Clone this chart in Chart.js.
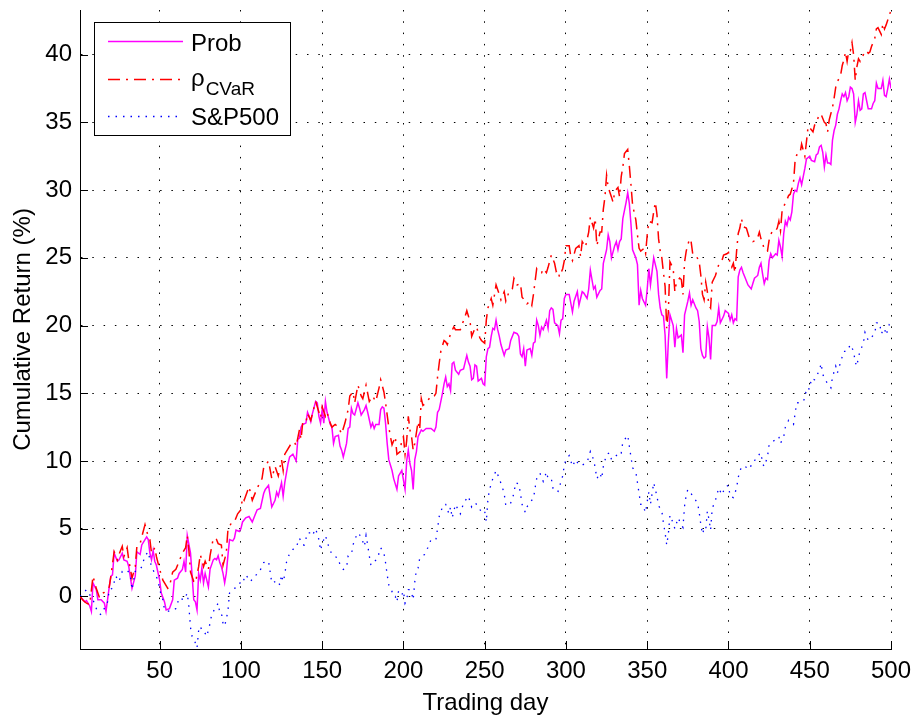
<!DOCTYPE html>
<html>
<head>
<meta charset="utf-8">
<script src="https://cdn.jsdelivr.net/npm/chart.js@4.4.0/dist/chart.umd.min.js"></script>
<style>
  body { margin: 0; background: #fff; }
</style>
</head>
<body>
<canvas id="myChart" width="916" height="718"></canvas>
<script>
// [trading day, cumulative return %]
var probData = [
  [1,0],[4,-0.4],[5,-0.3],[7,-0.7],[8,-1.1],[9,1.0],[11,0.5],[12,-0.25],[14,-0.25],[16,-0.5],[17,-1.1],[19,0.7],[20,1.5],
  [21,1.6],[22,3.2],[24,2.6],[25,2.7],[27,3.2],[28,2.7],[30,2.6],[31,2.2],[33,0.6],[35,1.5],[36,3.3],[38,3.1],[39,3.8],
  [41,4.2],[42,4.4],[43,4.2],[44,3.2],[45,2.7],[46,3.4],[47,2.6],[48,2.3],[50,1.2],[51,0.25],[53,-0.4],[54,-1.0],[56,-0.9],
  [58,-0.25],[59,1.2],[61,1.35],[62,1.7],[64,2.0],[65,2.6],[66,1.8],[67,4.5],[69,3.2],[70,1.5],[71,-0.25],[72,-0.4],[73,-1.0],
  [74,1.7],[75,1.2],[76,2.1],[77,1.0],[78,1.7],[80,0.7],[81,2.0],[83,2.7],[84,2.8],[85,2.7],[86,3.0],[87,2.5],[88,2.2],
  [89,1.7],[90,1.0],[91,1.7],[92,3.0],[93,4.2],[95,4.1],[96,4.3],[97,4.9],[99,4.8],[100,5.0],[101,5.5],[103,5.8],[105,5.9],
  [107,5.5],[109,6.1],[110,6.4],[112,6.5],[114,7.6],[115,7.9],[117,8.2],[118,7.4],[119,6.6],[121,7.1],[122,7.7],[123,7.4],
  [124,7.9],[125,8.4],[126,7.4],[127,8.4],[129,9.8],[130,10.3],[132,10.5],[134,10.0],[135,11.6],[136,11.7],[137,12.5],
  [138,12.7],[140,12.8],[141,13.6],[142,13.3],[143,12.9],[144,13.5],[146,14.4],[147,14.3],[148,13.3],[149,12.8],[150,13.8],
  [151,12.8],[152,14.4],[153,13.6],[155,12.7],[156,12.5],[157,11.3],[158,11.8],[160,11.9],[161,11.1],[162,10.8],[163,10.3],
  [165,11.3],[166,12.4],[167,12.5],[168,13.9],[169,13.5],[170,13.4],[172,14.3],[173,13.9],[174,13.4],[176,13.8],[177,14.1],
  [178,13.6],[180,12.5],[181,12.8],[182,12.4],[183,12.7],[185,12.7],[186,13.8],[187,14.0],[188,13.9],[189,12.8],[190,11.3],
  [191,10.1],[193,9.3],[194,8.7],[196,7.9],[197,8.9],[199,9.3],[200,8.6],[201,7.9],[202,10.0],[203,10.8],[204,9.8],[205,9.3],
  [206,7.9],[207,10.1],[208,10.7],[209,11.8],[211,12.3],[212,12.2],[214,12.4],[217,12.4],[219,12.2],[220,12.5],[221,13.6],
  [222,13.8],[224,15.0],[225,15.7],[226,16.2],[227,15.5],[228,15.7],[229,15.2],[230,17.2],[231,17.3],[232,16.7],[234,16.4],
  [235,16.7],[237,16.8],[238,17.3],[239,17.8],[240,17.3],[241,17.0],[242,16.0],[243,16.1],[244,17.1],[245,17.0],[246,15.9],
  [248,16.1],[249,15.7],[250,15.6],[251,17.7],[252,18.3],[253,18.4],[254,19.2],[255,19.8],[256,19.7],[257,20.4],[258,19.7],
  [259,19.2],[260,18.6],[261,18.2],[262,17.8],[263,18.2],[265,18.3],[266,18.9],[268,19.5],[270,19.4],[271,19.2],[272,17.9],
  [273,17.7],[274,18.3],[275,17.0],[276,18.2],[278,18.3],[279,17.8],[280,18.7],[281,18.8],[282,20.4],[283,20.0],[284,19.3],
  [285,19.9],[286,19.7],[288,20.4],[289,19.8],[290,21.1],[291,21.3],[292,21.2],[293,20.2],[295,20.0],[296,19.4],[297,20.4],
  [298,20.5],[299,22.0],[300,22.3],[302,22.3],[304,21.0],[305,21.8],[307,22.5],[308,21.5],[310,22.5],[311,22.4],[313,22.0],
  [314,22.7],[315,24.1],[317,22.7],[318,22.9],[319,22.1],[321,22.6],[322,22.7],[323,24.6],[325,25.6],[326,26.7],[327,26.2],
  [328,25.0],[330,25.9],[331,26.2],[332,25.6],[333,26.2],[334,26.4],[335,27.9],[337,29.1],[338,29.8],[339,29.0],[340,27.5],
  [341,25.6],[343,25.0],[344,24.5],[345,21.5],[346,22.6],[347,22.0],[349,21.5],[350,22.7],[351,24.2],[352,23.0],[353,24.0],
  [354,25.0],[356,24.0],[357,22.3],[358,21.3],[359,20.8],[360,20.7],[361,19.3],[362,16.1],[363,18.8],[364,20.8],[366,20.0],
  [367,18.4],[368,19.8],[369,19.1],[370,19.2],[371,19.3],[372,18.0],[373,20.8],[375,21.8],[376,22.4],[377,21.5],[378,21.9],
  [380,21.3],[381,21.1],[382,20.3],[383,18.3],[384,17.8],[385,17.6],[386,17.7],[387,19.9],[388,19.1],[389,17.5],[390,20.0],
  [392,20.0],[393,20.3],[394,21.3],[395,20.2],[397,20.7],[398,21.1],[399,21.0],[400,20.9],[401,20.4],[402,20.8],[403,20.2],
  [404,20.5],[405,20.4],[406,23.6],[407,24.1],[408,24.3],[409,23.9],[410,23.6],[412,23.0],[414,22.7],[415,23.1],[416,23.5],
  [418,23.7],[419,24.3],[420,24.6],[421,23.8],[422,23.1],[423,23.5],[424,23.4],[425,24.8],[426,25.3],[427,25.0],[429,25.3],
  [430,25.2],[431,26.3],[432,25.8],[433,25.1],[434,26.8],[435,27.7],[436,27.4],[437,28.0],[438,27.8],[439,28.4],[440,29.7],
  [441,30.0],[442,29.9],[443,30.5],[444,30.9],[445,30.4],[446,31.0],[447,31.6],[448,32.3],[450,32.5],[451,32.2],[453,32.1],
  [454,32.6],[455,32.7],[456,33.2],[457,33.3],[458,32.8],[459,31.7],[460,32.6],[461,32.0],[462,32.0],[463,31.9],[464,33.7],
  [465,34.4],[466,34.8],[467,35.6],[468,36.0],[469,36.6],[470,37.1],[471,36.9],[472,37.2],[473,36.6],[474,36.9],[475,37.6],
  [476,37.5],[477,37.1],[478,35.0],[479,35.6],[480,36.6],[481,35.9],[482,36.0],[483,37.1],[484,37.2],[485,36.6],[486,36.0],
  [488,36.0],[489,36.4],[490,36.6],[491,37.9],[492,37.5],[493,37.5],[494,37.5],[495,38.1],[496,37.0],[497,36.9],[498,37.5],
  [499,38.2],[500,37.5]
]
var cvarData = [
  [1,0],[3,-0.3],[5,-0.5],[7,-0.6],[9,1.5],[11,0.6],[13,-0.1],[15,0.25],[16,0.3],[19,0.7],[20,1.5],[22,3.3],[24,2.7],
  [25,3.1],[27,3.7],[28,2.95],[30,3.6],[31,2.7],[33,1.35],[35,2.2],[36,3.7],[38,3.9],[39,4.4],[41,5.3],[43,4.4],[44,4.2],
  [45,3.2],[47,3.6],[48,2.95],[50,2.0],[52,1.2],[53,1.0],[55,0.6],[56,0.7],[58,1.8],[60,2.0],[62,2.6],[64,3.2],[66,3.6],
  [67,4.5],[68,3.4],[69,1.8],[71,1.1],[72,1.0],[74,2.2],[75,3.1],[77,2.2],[78,2.6],[80,2.0],[81,3.0],[83,4.3],[85,4.2],
  [86,3.9],[88,3.8],[89,2.3],[91,3.2],[92,4.9],[94,5.4],[96,5.5],[98,6.1],[100,6.4],[101,7.3],[102,7.1],[105,8.1],[107,7.1],
  [110,8.0],[113,8.7],[114,9.5],[117,10.0],[119,8.7],[121,9.6],[123,8.9],[125,10.1],[126,9.3],[127,10.5],[131,11.3],
  [133,11.4],[134,11.1],[136,12.3],[137,11.6],[138,12.8],[140,12.8],[141,13.5],[143,13.0],[144,13.5],[146,14.4],[148,13.6],
  [149,13.2],[150,14.0],[152,13.3],[153,13.6],[155,12.8],[156,12.5],[158,12.7],[160,12.5],[162,12.0],[164,12.8],[166,13.8],
  [167,14.8],[169,15.1],[170,14.3],[172,15.6],[174,14.8],[175,14.6],[177,15.6],[179,14.4],[181,14.8],[183,14.4],[185,15.4],
  [186,16.0],[188,15.1],[189,14.3],[191,12.5],[192,11.8],[193,11.2],[195,11.8],[196,10.5],[198,10.7],[199,11.6],[200,11.8],
  [201,10.5],[202,11.5],[203,13.3],[204,12.3],[205,11.8],[206,10.8],[207,11.3],[209,12.9],[210,12.3],[211,14.6],[212,14.1],
  [214,14.3],[217,14.8],[219,14.8],[220,15.0],[221,16.2],[222,17.2],[223,18.1],[225,18.9],[226,18.8],[227,18.6],[229,19.4],
  [231,19.9],[232,19.7],[235,19.7],[238,20.7],[239,21.1],[241,20.3],[242,19.2],[244,19.8],[245,19.9],[247,19.1],[248,18.9],
  [250,18.7],[251,20.4],[252,21.3],[254,22.0],[255,21.5],[257,23.0],[259,22.3],[260,21.9],[262,22.5],[263,21.8],[265,22.5],
  [267,22.7],[268,23.5],[270,23.0],[272,23.1],[273,22.1],[275,21.8],[276,21.6],[278,21.8],[279,21.5],[280,22.3],[282,24.2],
  [283,24.0],[285,23.9],[286,24.2],[288,23.9],[289,24.3],[291,25.2],[293,24.6],[294,24.0],[295,24.1],[296,23.6],[298,24.2],
  [299,24.8],[300,25.9],[302,25.9],[303,25.1],[304,24.8],[306,25.7],[308,25.9],[309,25.1],[310,26.2],[312,25.8],[314,26.9],
  [315,28.0],[317,27.2],[318,27.9],[319,25.9],[321,26.9],[322,26.9],[323,28.6],[324,29.5],[325,31.1],[326,30.2],[328,29.5],
  [329,29.1],[330,29.9],[332,30.2],[333,29.5],[334,31.0],[335,31.7],[336,32.7],[338,33.0],[339,31.8],[340,30.4],[341,28.9],
  [343,27.8],[344,26.7],[345,25.7],[346,25.5],[348,25.7],[349,25.3],[350,26.7],[351,27.7],[353,27.6],[354,28.4],[355,29.1],
  [356,28.2],[357,26.4],[358,25.5],[359,25.0],[360,23.9],[361,22.9],[362,19.8],[363,21.0],[364,24.7],[366,24.2],[367,22.5],
  [368,23.2],[370,23.5],[371,23.4],[372,22.3],[373,24.7],[374,25.5],[376,26.4],[377,26.2],[378,25.3],[380,25.2],[382,24.7],
  [383,23.7],[384,22.3],[385,21.9],[386,23.2],[387,22.5],[388,21.5],[389,21.3],[390,23.2],[392,23.7],[393,24.1],[394,24.5],
  [396,24.8],[397,25.2],[399,25.3],[400,25.4],[401,24.5],[402,24.3],[403,24.6],[404,23.9],[405,25.5],[406,26.8],[407,27.2],
  [408,27.9],[409,27.3],[411,27.2],[413,26.4],[415,26.2],[417,26.3],[418,26.5],[419,26.9],[420,26.4],[421,26.1],[422,25.6],
  [424,25.5],[425,26.3],[426,26.7],[427,27.0],[429,27.0],[430,27.2],[431,27.7],[432,27.0],[433,28.5],[434,28.8],[436,29.3],
  [437,29.6],[438,29.7],[440,30.5],[441,32.2],[442,32.6],[444,32.7],[445,33.4],[447,32.5],[449,34.7],[450,34.6],[452,34.3],
  [453,34.8],[455,35.3],[456,35.6],[457,35.6],[459,35.0],[460,34.9],[461,34.3],[462,35.2],[464,36.1],[465,36.8],[466,37.6],
  [467,38.0],[469,38.5],[470,39.2],[471,39.6],[472,40.2],[473,39.5],[474,40.3],[475,40.3],[476,40.9],[477,40.0],[478,38.1],
  [479,39.1],[480,39.7],[481,39.5],[483,40.0],[485,40.3],[486,40.1],[487,40.2],[488,40.6],[490,41.2],[491,41.9],[492,42.0],
  [494,41.5],[495,42.3],[496,41.9],[497,42.2],[499,42.9],[500,43.3]
]
var spData = [
  [1,0],[5,0.5],[9,-0.25],[12,-1.2],[14,-1.35],[18,-0.4],[19,0.5],[21,0.6],[23,1.5],[25,1.1],[27,1.85],[30,1.95],[32,1.6],
  [33,0.5],[34,1.2],[35,1.85],[38,2.0],[39,2.2],[41,3.0],[43,3.3],[44,2.7],[45,2.2],[47,1.7],[49,1.2],[50,0.5],[52,-0.25],
  [53,-1.0],[56,-1.1],[58,-1.0],[60,-0.9],[62,-0.1],[65,-0.25],[67,0.25],[68,-0.75],[69,-2.3],[70,-2.95],[71,-3.1],[73,-3.8],
  [74,-2.5],[75,-2.2],[76,-2.5],[77,-2.5],[79,-2.95],[81,-2.0],[82,-1.35],[84,-0.9],[86,-0.5],[87,-1.2],[88,-1.2],[89,-2.0],
  [90,-2.2],[92,-1.1],[93,0.25],[96,0.6],[98,0.7],[100,1.1],[101,1.0],[103,1.6],[106,1.1],[108,1.5],[111,1.7],[114,2.5],
  [117,2.6],[118,1.8],[119,1.0],[120,1.0],[122,1.2],[124,0.85],[125,1.6],[126,1.1],[127,1.6],[128,2.5],[130,3.2],[133,3.6],
  [134,3.6],[136,4.3],[138,3.8],[139,3.8],[141,4.7],[143,4.7],[144,4.5],[146,5.0],[148,4.2],[149,3.4],[150,3.9],[152,4.5],
  [154,3.7],[156,3.1],[160,2.8],[161,2.3],[163,2.0],[165,2.1],[166,3.0],[168,3.1],[169,3.8],[170,4.2],[172,4.7],[174,4.4],
  [176,3.7],[177,4.5],[178,3.8],[179,3.0],[180,2.3],[184,2.8],[186,3.6],[188,3.2],[189,2.5],[190,1.6],[191,0.85],[192,0.7],
  [194,0],[195,0],[196,-0.4],[197,0.4],[199,0.1],[200,0.4],[201,-0.5],[202,-0.25],[203,0.5],[204,0.5],[205,0.25],[206,-0.25],
  [207,1.1],[208,2.0],[209,2.1],[210,2.8],[213,3.1],[215,3.6],[217,4.2],[220,4.2],[221,5.0],[222,5.9],[224,6.6],[225,6.8],
  [226,6.8],[228,6.1],[229,6.6],[230,5.8],[232,6.8],[235,6.1],[237,6.9],[240,7.4],[242,6.6],[244,6.9],[246,6.7],[248,6.2],
  [250,6.3],[251,5.5],[252,7.2],[253,7.9],[255,8.7],[257,9.3],[259,8.7],[261,8.0],[262,7.6],[263,6.7],[266,6.9],[268,7.6],
  [269,8.4],[271,8.3],[272,7.6],[273,6.8],[275,6.2],[276,6.6],[278,7.0],[280,7.2],[281,8.0],[282,8.7],[284,9.1],[286,8.5],
  [288,9.2],[289,8.7],[291,8.7],[292,8.0],[295,7.7],[296,8.1],[298,8.9],[299,9.7],[300,10.1],[302,10.4],[304,9.6],[306,10.1],
  [308,9.7],[310,9.7],[313,9.9],[315,10.7],[317,10.1],[318,9.5],[319,8.7],[321,9.1],[322,8.7],[323,9.6],[325,10.5],[327,10.6],
  [328,10.1],[331,10.4],[333,10.7],[334,10.6],[335,11.4],[338,11.9],[339,11.1],[340,10.3],[341,9.5],[343,9.2],[344,8.4],
  [345,7.6],[346,6.8],[347,6.8],[349,6.2],[350,7.0],[351,7.7],[352,6.8],[353,7.6],[354,8.4],[356,7.4],[357,6.7],[359,6.3],
  [360,5.4],[361,4.7],[362,3.8],[363,4.6],[364,6.0],[366,5.4],[367,5.0],[369,5.8],[371,5.3],[372,5.1],[373,6.7],[374,7.5],
  [375,7.9],[377,7.6],[378,7.4],[381,6.9],[382,6.2],[383,5.3],[384,4.6],[385,5.0],[386,4.9],[387,6.3],[388,5.7],[389,4.9],
  [390,6.5],[392,7.1],[394,8.0],[396,7.5],[398,8.1],[400,8.2],[401,7.4],[403,7.3],[405,8.0],[406,8.8],[408,9.6],[410,9.6],
  [413,9.4],[415,10.0],[417,10.1],[419,10.5],[420,10.6],[421,9.8],[422,9.6],[424,10.3],[425,11.2],[429,11.6],[431,11.8],
  [432,11.3],[434,11.8],[435,12.5],[437,13.0],[440,12.7],[441,13.5],[442,14.3],[445,14.3],[447,14.6],[448,15.4],[450,15.3],
  [451,16.1],[453,16.0],[456,16.7],[457,17.2],[458,16.4],[460,15.9],[463,15.4],[464,16.2],[466,17.0],[467,16.5],[469,17.3],
  [471,18.1],[473,18.1],[475,18.6],[477,18.1],[478,17.3],[479,17.0],[480,17.7],[481,18.1],[483,18.7],[484,19.5],[486,18.9],
  [490,19.4],[491,20.2],[493,20.2],[494,19.4],[496,19.8],[497,19.3],[499,20.1],[500,20.2]
]
var xTicks = [50, 100, 150, 200, 250, 300, 350, 400, 450, 500]
var yTicks = [0, 5, 10, 15, 20, 25, 30, 35, 40]
var legendMain = ['Prob', 'ρ', 'S&P500']
var legendSub = ['', 'CVaR', '']

var FONT = "'Liberation Sans', Arial, Helvetica, sans-serif"
Chart.defaults.font.family = FONT
Chart.defaults.color = '#000'

function toPoints(arr) {
  return arr.map(function (p) { return { x: p[0], y: p[1] } })
}

function noPad(scale) {
  scale.paddingTop = 0
  scale.paddingBottom = 0
  scale.paddingLeft = 0
  scale.paddingRight = 0
}

// matlab style ticks pointing into the axes
var innerTicks = {
  id: 'innerTicks',
  afterDraw: function (chart) {
    var ctx = chart.ctx, a = chart.chartArea
    var xs = chart.scales.x, ys = chart.scales.y
    ctx.save()
    ctx.strokeStyle = '#000'
    ctx.lineWidth = 1
    ctx.beginPath()
    xTicks.forEach(function (v) {
      var px = Math.round(xs.getPixelForValue(v)) + 0.5
      ctx.moveTo(px, a.bottom); ctx.lineTo(px, a.bottom - 8)
    })
    yTicks.forEach(function (v) {
      var py = Math.round(ys.getPixelForValue(v)) + 0.5
      ctx.moveTo(a.left, py); ctx.lineTo(a.left + 8, py)
    })
    ctx.stroke()
    ctx.restore()
  }
}

var legendBox = {
  id: 'legendBox',
  afterDraw: function (chart) {
    var ctx = chart.ctx
    ctx.save()
    ctx.fillStyle = '#fff'
    ctx.fillRect(94, 22, 196, 113)
    ctx.strokeStyle = '#000'
    ctx.lineWidth = 1
    ctx.strokeRect(94.5, 22.5, 196, 113)
    var rows = [41, 79, 116]
    var base = [51, 86, 125]
    chart.data.datasets.forEach(function (ds, i) {
      ctx.strokeStyle = ds.borderColor
      ctx.lineWidth = ds.borderWidth
      ctx.setLineDash(ds.borderDash || [])
      ctx.beginPath()
      ctx.moveTo(108, rows[i] + 0.5)
      ctx.lineTo(183, rows[i] + 0.5)
      ctx.stroke()
      ctx.setLineDash([])
      ctx.fillStyle = '#000'
      ctx.textBaseline = 'alphabetic'
      ctx.textAlign = 'left'
      ctx.font = '24px ' + FONT
      ctx.fillText(legendMain[i], 191, base[i])
      if (legendSub[i]) {
        var w = ctx.measureText(legendMain[i]).width
        ctx.font = '19px ' + FONT
        ctx.fillText(legendSub[i], 191 + w + 1, base[i] + 9)
      }
    })
    ctx.restore()
  }
}

const ctx = document.getElementById('myChart')

new Chart(ctx, {
  type: 'line',
  data: {
    datasets: [{
      label: 'Prob',
      data: toPoints(probData),
      borderColor: '#ff00ff',
      borderWidth: 1.5,
      pointRadius: 0,
      order: 3
    }, {
      label: 'ρCVaR',
      data: toPoints(cvarData),
      borderColor: '#ff0000',
      borderWidth: 1.5,
      borderDash: [12, 6, 2, 6],
      pointRadius: 0,
      order: 2
    }, {
      label: 'S&P500',
      data: toPoints(spData),
      borderColor: '#0000ff',
      borderWidth: 1.3,
      borderDash: [1.5, 6],
      pointRadius: 0,
      order: 1
    }]
  },
  plugins: [innerTicks, legendBox],
  options: {
    responsive: false,
    animation: false,
    layout: { padding: { top: 10, right: 25, left: 0, bottom: 0 } },
    plugins: { legend: { display: false }, tooltip: { enabled: false } },
    elements: { line: { tension: 0, fill: false } },
    scales: {
      x: {
        type: 'linear',
        min: 1,
        max: 500,
        afterBuildTicks: function (scale) {
          scale.ticks = xTicks.map(function (v) { return { value: v } })
        },
        afterFit: function (scale) { scale.height = 69; noPad(scale) },
        ticks: { font: { size: 24 }, padding: 8, maxRotation: 0, autoSkip: false },
        grid: { color: '#000', lineWidth: 1, drawTicks: false },
        border: { display: true, color: '#000', width: 1, dash: [1.5, 9.8] },
        title: { display: true, text: 'Trading day', font: { size: 24 }, padding: { top: 0, bottom: 0 } }
      },
      y: {
        type: 'linear',
        min: -3.88,
        max: 43.3,
        afterBuildTicks: function (scale) {
          scale.ticks = yTicks.map(function (v) { return { value: v } })
        },
        afterFit: function (scale) { scale.width = 80; noPad(scale) },
        ticks: { font: { size: 24 }, padding: 8 },
        grid: { color: '#000', lineWidth: 1, drawTicks: false },
        border: { display: true, color: '#000', width: 1, dash: [1.5, 9.8] },
        title: { display: true, text: 'Cumulative Return (%)', font: { size: 24 }, padding: { top: 9, bottom: 0 } }
      }
    }
  }
})
</script>
</body>
</html>
